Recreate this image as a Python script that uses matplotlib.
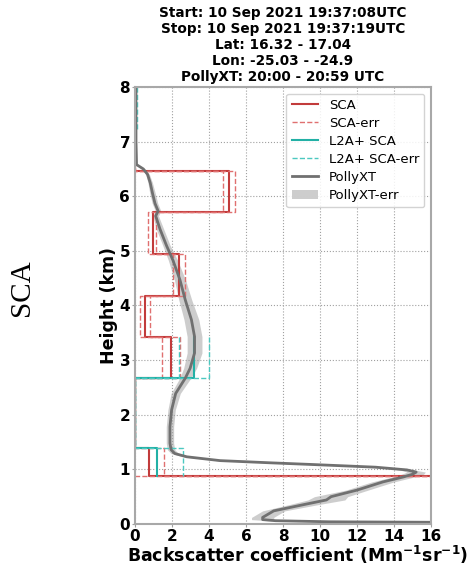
import numpy as np
import matplotlib
matplotlib.use("Agg")
import matplotlib.pyplot as plt

plt.rcParams['font.family'] = ['DejaVu Sans']
plt.rcParams['font.weight'] = 'bold'

# SCA bins (km, top -> bottom) and backscatter values (Mm-1 sr-1)
sca_edges = [8.0, 6.46, 5.71, 4.94, 4.18, 3.43, 2.67, 1.39, 0.88, 0.0]
sca_val = [0.0, 5.08, 0.96, 2.40, 0.54, 1.95, 0.0, 0.76, 30.0]
sca_lo = [0.0, 4.74, 0.72, 2.04, 0.27, 1.44, 0.0, -0.1, 25.0]
sca_hi = [0.0, 5.40, 1.12, 2.68, 0.81, 2.42, 0.0, 1.58, 35.0]

# L2A+ SCA bins
l2a_edges = [8.0, 7.2, 3.43, 2.67, 1.39, 0.88]
l2a_val = [0.0, np.nan, 3.17, 0.0, 1.21]
l2a_lo = [0.0, np.nan, 2.38, 0.0, -0.1]
l2a_hi = [0.1, np.nan, 4.02, 0.0, 2.61]

# PollyXT profile
polly_h = [8.0, 7.0, 6.58, 6.50, 6.40, 6.25, 6.05, 5.87, 5.73, 5.64, 5.40, 5.10,
           4.83, 4.47, 4.10, 3.74, 3.43, 3.13, 2.85, 2.67, 2.39, 2.09, 1.78, 1.48,
           1.36, 1.29, 1.23, 1.16, 1.12, 1.09, 1.04, 0.99, 0.95, 0.91, 0.86, 0.77,
           0.62, 0.50, 0.44, 0.36, 0.24, 0.12, 0.08, 0.06, 0.04, 0.03]
polly_v = [0.05, 0.05, 0.08, 0.45, 0.68, 0.82, 0.95, 1.08, 1.25, 1.12, 1.35, 1.70,
           2.05, 2.43, 2.72, 3.05, 3.22, 3.22, 2.98, 2.72, 2.20, 1.98, 1.89, 1.89,
           1.95, 2.15, 2.80, 4.60, 7.30, 9.50, 13.0, 14.7, 15.2, 15.0, 14.5, 13.4,
           12.0, 10.6, 10.35, 9.2, 7.5, 6.9, 6.9, 7.6, 10.5, 17.0]
polly_err = [0.05, 0.05, 0.06, 0.08, 0.1, 0.12, 0.15, 0.15, 0.15, 0.15, 0.2, 0.2,
             0.25, 0.3, 0.35, 0.4, 0.4, 0.4, 0.35, 0.3, 0.25, 0.2, 0.2, 0.2,
             0.2, 0.2, 0.2, 0.2, 0.2, 0.25, 0.3, 0.4, 0.5, 0.6, 0.6, 0.6,
             0.6, 0.9, 1.0, 0.8, 0.6, 0.6, 0.6, 0.4, 0.3, 0.3]

title_lines = ["Start: 10 Sep 2021 19:37:08UTC", "Stop: 10 Sep 2021 19:37:19UTC",
               "Lat: 16.32 - 17.04", "Lon: -25.03 - -24.9", "PollyXT: 20:00 - 20:59 UTC"]


def steps(edges, vals):
    # each bin -> vertical segment, neighbours joined by horizontals
    xs, ys = [], []
    for i, v in enumerate(vals):
        xs += [v, v]
        ys += [edges[i], edges[i + 1]]
    return np.array(xs), np.array(ys)


fig = plt.figure(figsize=(4.71, 5.65), dpi=100)
ax = fig.add_axes([0.2866, 0.0726, 0.6284, 0.7734])

red = '#c23b3b'
red_err = '#e07070'
teal = '#22b0a5'
teal_err = '#4cc8c0'

x, y = steps(sca_edges, sca_val)
ax.plot(x, y, color=red, lw=1.5, label='SCA')
x, y = steps(sca_edges, sca_lo)
ax.plot(x, y, color=red_err, lw=1.0, ls='--', label='SCA-err')
x, y = steps(sca_edges, sca_hi)
ax.plot(x, y, color=red_err, lw=1.0, ls='--')

x, y = steps(l2a_edges, l2a_val)
ax.plot(x, y, color=teal, lw=1.5, label='L2A+ SCA')
x, y = steps(l2a_edges, l2a_lo)
ax.plot(x, y, color=teal_err, lw=1.0, ls='--', label='L2A+ SCA-err')
x, y = steps(l2a_edges, l2a_hi)
ax.plot(x, y, color=teal_err, lw=1.0, ls='--')

pv = np.array(polly_v)
pe = np.array(polly_err)
ax.plot(pv, polly_h, color='#707070', lw=2.0, label='PollyXT')
ax.fill_betweenx(polly_h, pv - pe, pv + pe, color='#c8c8c8', alpha=0.9, lw=0, label='PollyXT-err')

ax.set_xlim(0, 16)
ax.set_ylim(0, 8)
ax.set_xticks(range(0, 17, 2))
ax.set_yticks(range(0, 9))
ax.grid(True, ls=':', color='#a0a0a0', lw=0.8)
for s in ax.spines.values():
    s.set_color('#a8a8a8')
    s.set_linewidth(1.5)
ax.tick_params(colors='#a0a0a0', labelcolor='black', labelsize=11, length=2, pad=1.5)
for lab in ax.get_xticklabels() + ax.get_yticklabels():
    lab.set_fontweight('bold')

ax.set_xlabel('Backscatter coefficient (Mm$^{\\mathbf{-1}}$sr$^{\\mathbf{-1}}$)', fontsize=12.5, fontweight='bold', labelpad=0)
ax.xaxis.set_label_coords(0.55, -0.045)
ax.set_ylabel('Height (km)', fontsize=12.5, fontweight='bold', labelpad=1)
ax.set_title('\n'.join(title_lines), fontsize=9.8, fontweight='bold', pad=4)

leg = ax.legend(loc='upper right', fontsize=9.5, framealpha=0.85, handlelength=2.0,
                labelspacing=0.38)
for t in leg.get_texts():
    t.set_fontweight('normal')

fig.text(0.047, 0.49, 'SCA', rotation=90, fontsize=21, family='Liberation Serif',
         fontweight='normal', ha='center', va='center')

fig.savefig('out.png', dpi=100)
